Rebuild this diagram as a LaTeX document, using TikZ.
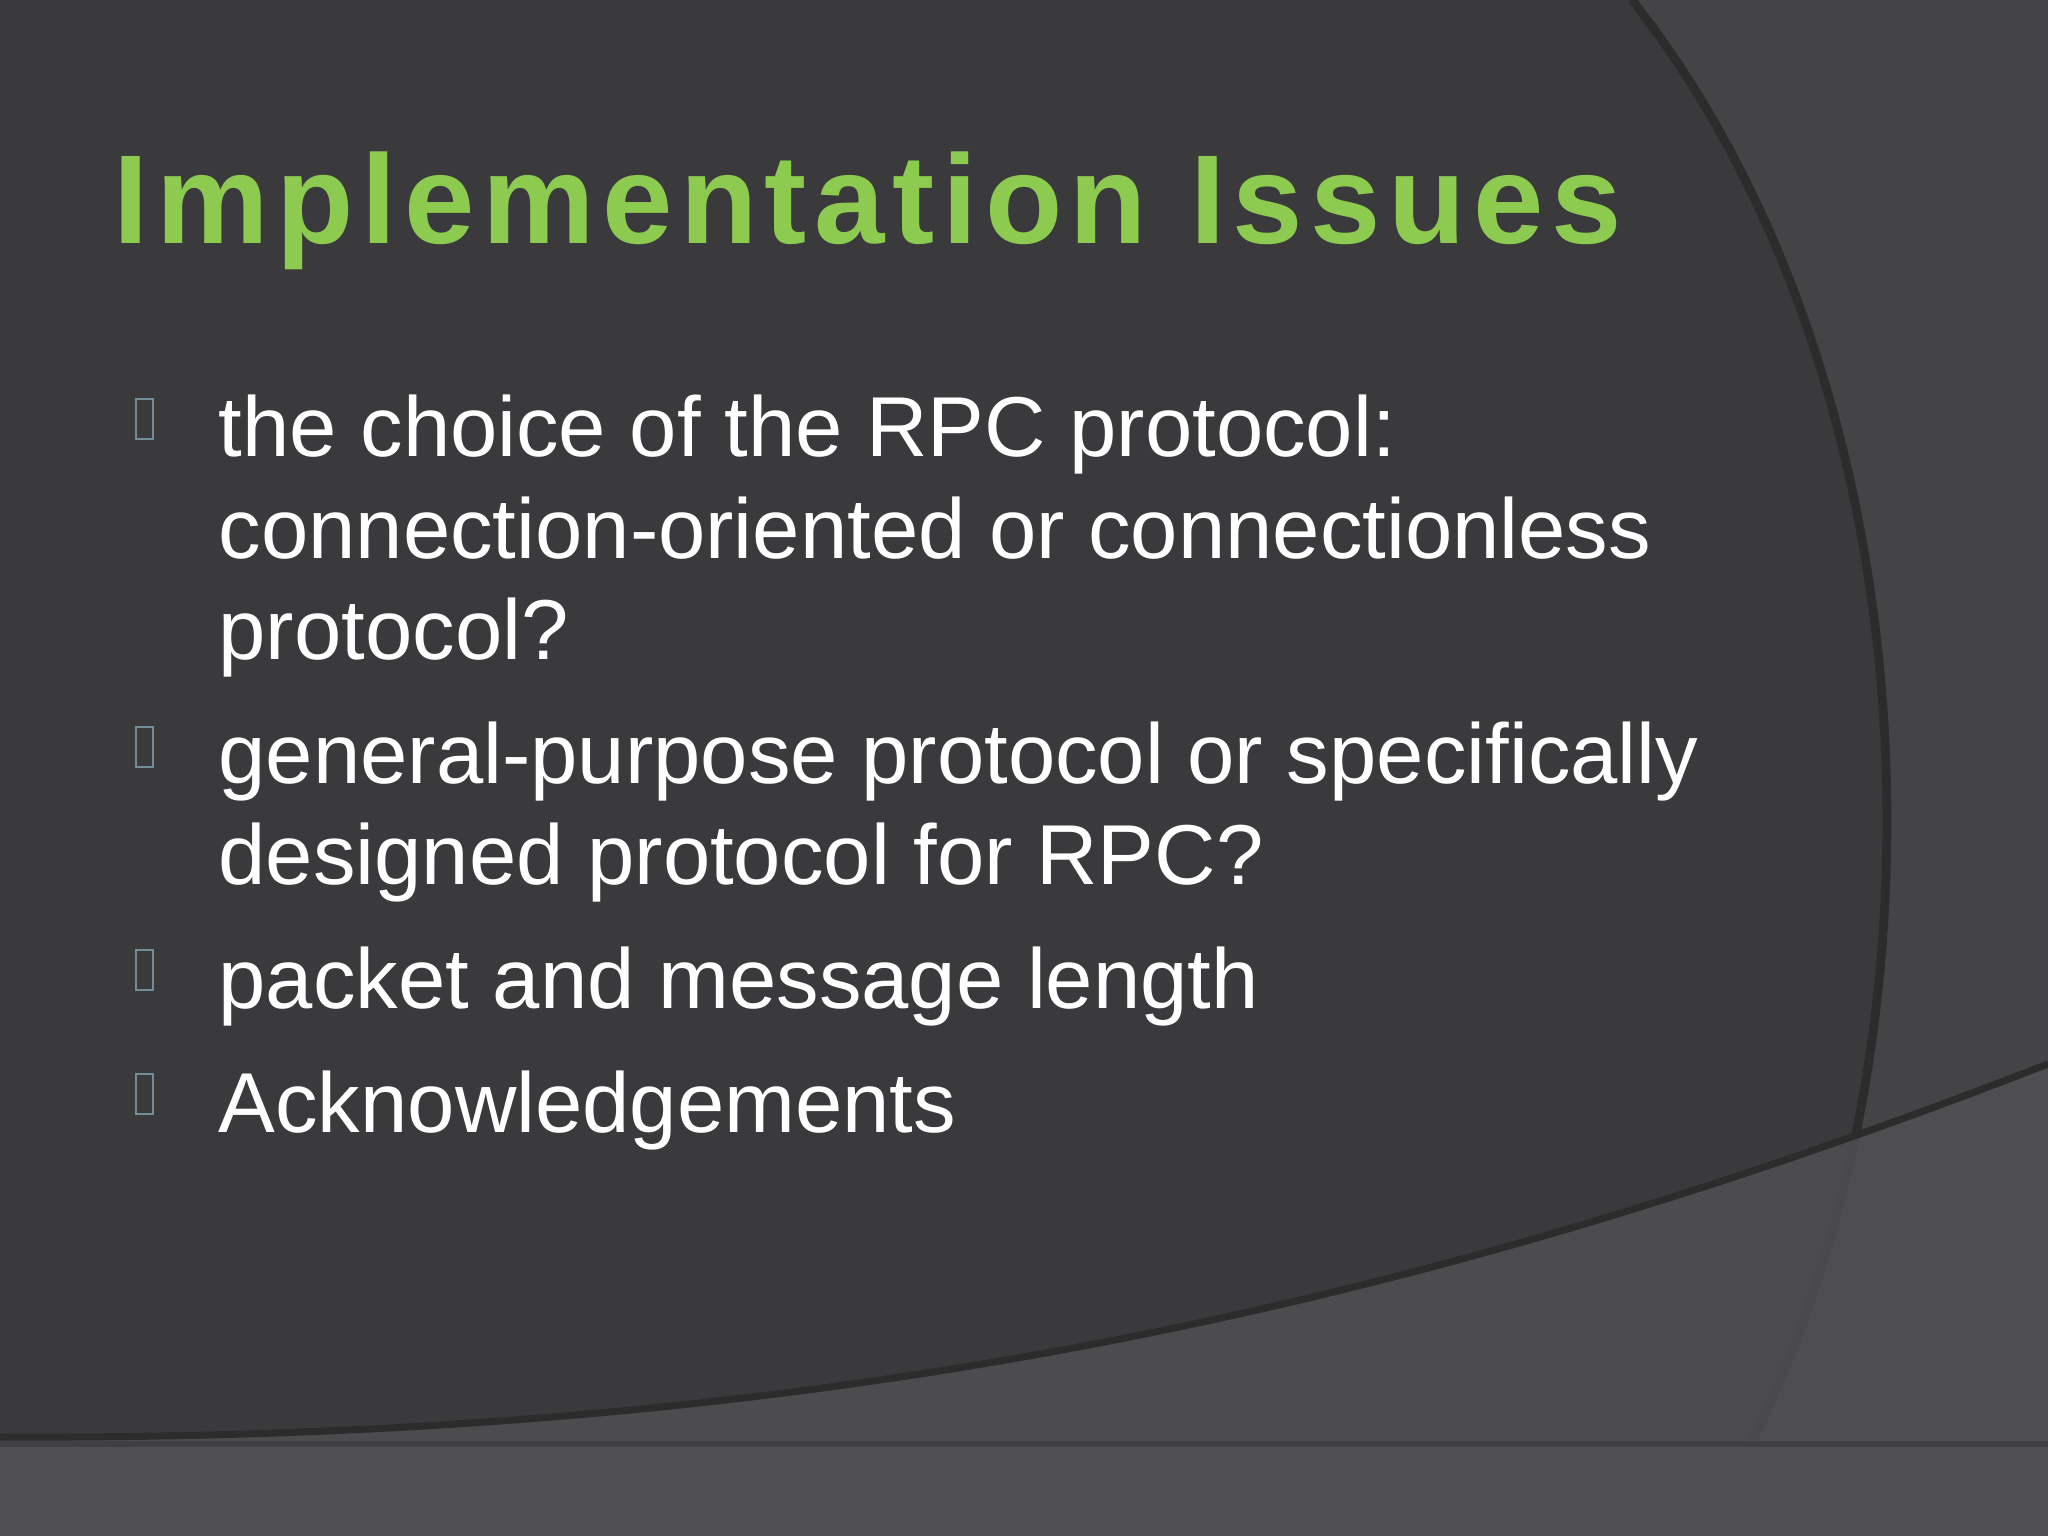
\documentclass[tikz,border=0pt]{standalone}
\usepackage{fontspec}
\setmainfont{Liberation Sans}
\newfontfamily\titlefont[LetterSpace=6]{Liberation Sans}
\definecolor{bgdark}{HTML}{3A3A3C}
\definecolor{bgmid}{HTML}{444446}
\definecolor{bglight}{HTML}{505052}
\definecolor{titlegreen}{HTML}{8DCB50}
\definecolor{bulletc}{HTML}{6F8F96}
\tikzset{body/.style={anchor=base west,inner sep=0pt,text=white,font=\fontsize{24.2}{29}\selectfont},
bulletbox/.style={draw=bulletc,line width=0.6pt,minimum width=0.17cm,minimum height=0.40cm,inner sep=0pt,anchor=south west}}
\begin{document}
\begin{tikzpicture}
\useasboundingbox (0,0) rectangle (20.48,15.36);
\fill[bgdark] (0,0) rectangle (20.48,15.36);
\fill[bgmid] (16.32,15.36) .. controls (19.6,11.2) and (19.6,4.0) .. (16.98,0) -- (20.48,0) -- (20.48,15.36) -- cycle;
\draw[line width=2.5pt,black!25!bgdark] (16.32,15.36) .. controls (19.6,11.2) and (19.6,4.0) .. (16.98,0);
\fill[bgmid] (16.4,15.36) -- (20.48,15.36) -- (20.48,14.6) .. controls (19,15.1) and (17.5,15.25) .. (16.4,15.36);
\fill[bglight,opacity=0.85] (0,0) -- (0,0.99) .. controls (8,0.95) and (14,2.2) .. (20.48,4.72) -- (20.48,0) -- cycle;
\draw[line width=2pt,black!25!bgdark] (0,0.99) .. controls (8,0.95) and (14,2.2) .. (20.48,4.72);
\fill[bglight] (0,0) rectangle (20.48,0.92);
\draw[line width=1.5pt,black!20!bglight] (0,0.92) -- (20.48,0.92);
\node[anchor=base west,inner sep=0pt,text=titlegreen,font=\titlefont\bfseries\fontsize{36}{44}\selectfont] (title) at (1.13,12.92) {Implementation Issues};
\node[bulletbox] (b1) at (1.35,10.96) {};
\node[bulletbox] (b2) at (1.35,7.68) {};
\node[bulletbox] (b3) at (1.35,5.45) {};
\node[bulletbox] (b4) at (1.35,4.21) {};
\node[body] (t1) at (2.18,10.79) {the choice of the RPC protocol:};
\node[body] (t2) at (2.18,9.77) {connection-oriented or connectionless};
\node[body] (t3) at (2.18,8.76) {protocol?};
\node[body] (t4) at (2.18,7.52) {general-purpose protocol or specifically};
\node[body] (t5) at (2.18,6.51) {designed protocol for RPC?};
\node[body] (t6) at (2.18,5.27) {packet and message length};
\node[body] (t7) at (2.18,4.03) {Acknowledgements};
\end{tikzpicture}
\end{document}
